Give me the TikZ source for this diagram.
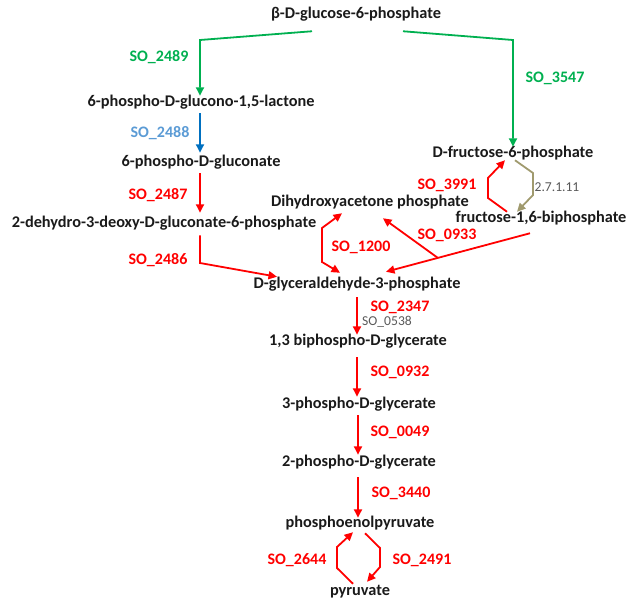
\documentclass[tikz,border=0pt]{standalone}
\usepackage{fontspec}
\setmainfont{Carlito}
\usetikzlibrary{arrows.meta,calc}
\definecolor{grn}{HTML}{00B050}
\definecolor{blu}{HTML}{0070C0}
\definecolor{lblu}{HTML}{5B9BD5}
\definecolor{rd}{HTML}{FF0000}
\definecolor{olv}{HTML}{A09A6E}
\definecolor{gry}{HTML}{595959}
\definecolor{txt}{HTML}{1A1A1A}
\begin{document}
\begin{tikzpicture}[x=1pt,y=-1pt,
  nm/.style={font=\bfseries\fontsize{16.3}{19}\selectfont, text=txt, inner sep=0pt, text height=10.8pt, text depth=3.3pt},
  lb/.style={font=\bfseries\fontsize{16}{19}\selectfont, inner sep=0pt},
  sm/.style={font=\fontsize{13.6}{16}\selectfont, text=gry, inner sep=0pt},
  ar/.style={line width=1.8pt, -{Triangle[length=8.5pt,width=8pt]}},
  arr/.style={line width=1.8pt, {Triangle[length=8.5pt,width=8pt]}-{Triangle[length=8.5pt,width=8pt]}}]
\useasboundingbox (0,0) rectangle (630,603);
% compounds
\node[nm] (g6p) at (356,15) {β-D-glucose-6-phosphate};
\node[nm] (lac) at (201,103) {6-phospho-D-glucono-1,5-lactone};
\node[nm] (pgl) at (201,163) {6-phospho-D-gluconate};
\node[nm] (kdpg) at (164,224) {2-dehydro-3-deoxy-D-gluconate-6-phosphate};
\node[nm] (dhap) at (370,203) {Dihydroxyacetone phosphate};
\node[nm] (gap) at (357,285) {D-glyceraldehyde-3-phosphate};
\node[nm] (bpg) at (358,342) {1,3 biphospho-D-glycerate};
\node[nm] (pg3) at (359,405) {3-phospho-D-glycerate};
\node[nm] (pg2) at (359,463) {2-phospho-D-glycerate};
\node[nm] (pep) at (360,524) {phosphoenolpyruvate};
\node[nm] (pyr) at (360,592) {pyruvate};
\node[nm] (f6p) at (513,154) {D-fructose-6-phosphate};
\node[nm] (fbp) at (541,219) {fructose-1,6-biphosphate};
% enzyme labels
\node[lb,text=grn] (l2489) at (159,57) {SO\_2489};
\node[lb,text=grn] (l3547) at (555,78) {SO\_3547};
\node[lb,text=lblu] (l2488) at (160,133) {SO\_2488};
\node[lb,text=rd] (l2487) at (158,195) {SO\_2487};
\node[lb,text=rd] (l2486) at (158,260) {SO\_2486};
\node[lb,text=rd] (l3991) at (447,185) {SO\_3991};
\node[sm] (l27111) at (557,187) {2.7.1.11};
\node[lb,text=rd] (l1200) at (361,247) {SO\_1200};
\node[lb,text=rd] (l0933) at (447,235) {SO\_0933};
\node[lb,text=rd] (l2347) at (400,307) {SO\_2347};
\node[sm] (l0538) at (387,322) {SO\_0538};
\node[lb,text=rd] (l0932) at (400,372) {SO\_0932};
\node[lb,text=rd] (l0049) at (400,432) {SO\_0049};
\node[lb,text=rd] (l3440) at (401,493) {SO\_3440};
\node[lb,text=rd] (l2644) at (297,560) {SO\_2644};
\node[lb,text=rd] (l2491) at (422,560) {SO\_2491};
% bend points
\coordinate (b1) at (200,40);
\coordinate (b2) at (513,40);
\coordinate (b3) at (200,263);
\coordinate (c1) at (322,228);
\coordinate (c2) at (322,262);
\coordinate (d1) at (488,198);
\coordinate (d2) at (488,178);
\coordinate (e1) at (533,173);
\coordinate (e2) at (533,195);
\coordinate (p1) at (337,568);
\coordinate (p2) at (337,547);
\coordinate (q1) at (380,548);
\coordinate (q2) at (380,567);
% connectors
\draw[ar,grn] ($(g6p.south)+(-44,9)$) -- (b1) -- (b1 |- lac.north);
\draw[ar,grn] ($(g6p.south)+(47,9)$) -- (b2) -- (b2 |- f6p.north);
\draw[ar,blu] ($(lac.south)+(-1,3)$) -- ($(pgl.north)+(-1,-3)$);
\draw[ar,rd] ($(pgl.south)+(-1,3)$) -- ($(kdpg.north)+(36,-4)$);
\draw[ar,rd] ($(kdpg.south)+(36,4)$) -- (b3) -- ($(gap.north)+(-80,-1)$);
\draw[arr,rd] ($(dhap.south)+(-28,3)$) -- (c1) -- (c2) -- ($(gap.north)+(-17,-5)$);
\coordinate (m1) at ($(fbp.south)+(-11,7)$);
\coordinate (m2) at ($(gap.north)+(29,-6)$);
\draw[ar,rd] (m1) -- (m2);
\draw[ar,rd] ($(m1)!0.64!(m2)$) -- ($(dhap.south)+(13,8)$);
\draw[ar,rd] ($(fbp.north)+(-34,0)$) -- (d1) -- (d2) -- ($(f6p.south)+(-8,-1)$);
\draw[ar,olv] ($(f6p.south)+(2,-1)$) -- (e1) -- (e2) -- ($(fbp.north)+(-24,0)$);
\draw[ar,rd] ($(gap.south)+(0,5)$) -- ($(bpg.north)+(-1,0)$);
\draw[ar,rd] ($(bpg.south)+(-1,8)$) -- ($(pg3.north)+(-2,-1)$);
\draw[ar,rd] ($(pg3.south)+(-1,3)$) -- ($(pg2.north)+(-1,-1)$);
\draw[ar,rd] ($(pg2.south)+(-1,7)$) -- ($(pep.north)+(-2,1)$);
\draw[ar,rd] ($(pyr.north)+(-7,-1)$) -- (p1) -- (p2) -- ($(pep.south)+(-7,1)$);
\draw[ar,rd] ($(pep.south)+(5,2)$) -- (q1) -- (q2) -- ($(pyr.north)+(7,-3)$);
\end{tikzpicture}
\end{document}
